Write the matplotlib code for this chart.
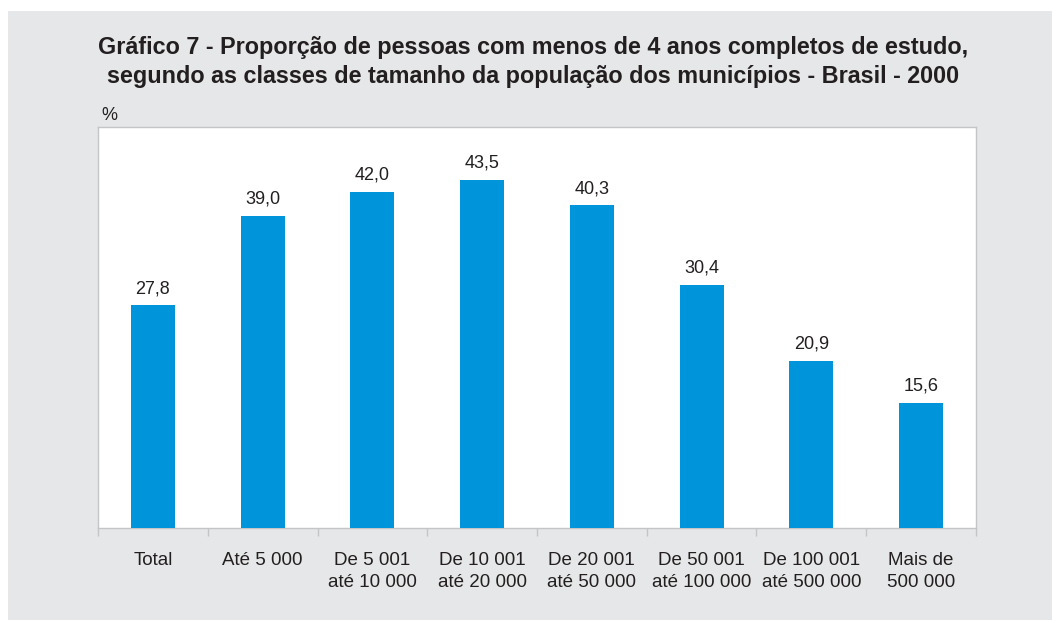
import numpy as np
import matplotlib.pyplot as plt
from matplotlib.patches import Rectangle

plt.rcParams['font.family'] = ['Liberation Sans', 'DejaVu Sans']

categories = ["Total", "Até 5 000", "De 5 001\naté 10 000", "De 10 001\naté 20 000",
              "De 20 001\naté 50 000", "De 50 001\naté 100 000", "De 100 001\naté 500 000",
              "Mais de\n500 000"]
values = [27.8, 39.0, 42.0, 43.5, 40.3, 30.4, 20.9, 15.6]

TITLE = ("Gráfico 7 - Proporção de pessoas com menos de 4 anos completos de estudo,\n"
         "segundo as classes de tamanho da população dos municípios - Brasil - 2000")

BG = "#e6e7e8"
BAR = "#0095da"
EDGE = "#c4c5c7"
TXT = "#231f20"

fig = plt.figure(figsize=(10.52, 6.2), dpi=100, facecolor="white")
fig.patches.append(Rectangle((8 / 1052, 0), 1, 1 - 11 / 620, transform=fig.transFigure,
                             facecolor=BG, edgecolor="none", zorder=-10))

ax = fig.add_axes([98 / 1052, 1 - 528 / 620, 878 / 1052, 401 / 620])
ax.set_facecolor("white")

x = np.arange(len(categories))
bars = ax.bar(x, values, width=0.4, color=BAR, zorder=3)

for xi, v in zip(x, values):
    ax.annotate(f"{v:.1f}".replace(".", ","), (xi, v), xytext=(0, 6),
                textcoords="offset points", ha="center", va="bottom",
                fontsize=13, color=TXT)

ax.set_xlim(-0.5, len(categories) - 0.5)
ax.set_ylim(0, 50.1)
ax.set_yticks([])

ax.set_xticks(x)
ax.set_xticklabels(categories, fontsize=13.5, color=TXT, linespacing=1.4)
ax.tick_params(axis="x", which="major", length=0, pad=17)
ax.set_xticks(np.arange(-0.5, len(categories)), minor=True)
ax.tick_params(axis="x", which="minor", length=6, width=1, color=EDGE)

for s in ax.spines.values():
    s.set_color(EDGE)
    s.set_linewidth(1)

fig.text(533 / 1052, 1 - 62 / 620, TITLE, ha="center", va="center",
         fontsize=16.8, fontweight="bold", color=TXT, linespacing=1.32)
fig.text(101 / 1052, 1 - 116 / 620, "%", ha="left", va="center", fontsize=13, color=TXT)

fig.savefig("out.png", dpi=100, facecolor=fig.get_facecolor())
